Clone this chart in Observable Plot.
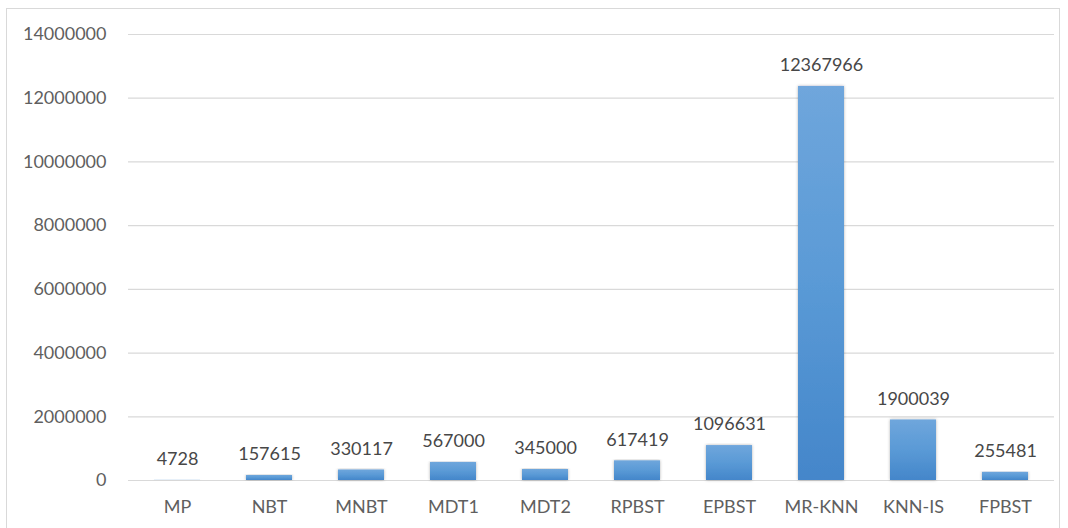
<!DOCTYPE html>
<html>
<head>
<meta charset="utf-8">
<script src="https://cdn.jsdelivr.net/npm/d3@7"></script>
<script src="https://cdn.jsdelivr.net/npm/@observablehq/plot@0.6"></script>
<style>
  html, body { margin: 0; padding: 0; background: #fff; }
  #wrap { position: relative; width: 1068px; height: 528px; overflow: hidden; }
  #border { position: absolute; left: 6px; top: 8px; width: 1054px; height: 530px; border: 1px solid #d9d9d9; box-sizing: border-box; }
  #chart { position: absolute; left: 0; top: 0; }
</style>
</head>
<body>
<div id="wrap"><div id="border"></div><div id="chart"></div></div>
<script>
const categories = ["MP", "NBT", "MNBT", "MDT1", "MDT2", "RPBST", "EPBST", "MR-KNN", "KNN-IS", "FPBST"];
const values = [4728, 157615, 330117, 567000, 345000, 617419, 1096631, 12367966, 1900039, 255481];
const yTicks = [0, 2000000, 4000000, 6000000, 8000000, 10000000, 12000000, 14000000];

const data = categories.map((c, i) => ({ name: c, value: values[i] }));
const font = "Lato, 'Open Sans', sans-serif";

const chart = Plot.plot({
  width: 1068,
  height: 528,
  marginLeft: 128,
  marginRight: 14,
  marginTop: 34,
  marginBottom: 48,
  style: { fontFamily: font, fontSize: "18px", background: "transparent" },
  x: { domain: categories, paddingInner: 0.5, paddingOuter: 0.25, label: null, tickSize: 0, tickPadding: 21 },
  y: { domain: [0, 14000000], ticks: yTicks, tickFormat: d => String(d), label: null, tickSize: 0, tickPadding: 22 },
  marks: [
    Plot.gridY(yTicks, { stroke: "#d9d9d9", strokeOpacity: 1, strokeWidth: 1.2 }),
    Plot.barY(data, { x: "name", y: "value", fill: "url(#barGrad)" }),
    Plot.text(data, { x: "name", y: "value", text: d => String(d.value), dy: -21, fill: "#474747", fontSize: 18 }),
    Plot.axisX({ tickSize: 0, tickPadding: 20, fill: "#5f5f5f", fontSize: 18 }),
    Plot.axisY({ ticks: yTicks, tickFormat: d => String(d), tickSize: 0, tickPadding: 22, fill: "#5f5f5f", fontSize: 18 })
  ]
});

const svg = d3.select(chart);
const defs = svg.insert("defs", ":first-child");
const g = defs.append("linearGradient").attr("id", "barGrad").attr("x1", 0).attr("y1", 0).attr("x2", 0).attr("y2", 1);
g.append("stop").attr("offset", "0%").attr("stop-color", "#6fa6dc");
g.append("stop").attr("offset", "50%").attr("stop-color", "#5a9ad6");
g.append("stop").attr("offset", "100%").attr("stop-color", "#4486ca");
const f = defs.append("filter").attr("id", "barShadow").attr("x", "-20%").attr("y", "-5%").attr("width", "140%").attr("height", "115%");
f.append("feDropShadow").attr("dx", 0).attr("dy", 0).attr("stdDeviation", 1.5).attr("flood-color", "#000").attr("flood-opacity", 0.3);
svg.selectAll("g[aria-label='bar'] rect").attr("filter", "url(#barShadow)");

document.getElementById("chart").appendChild(chart);
</script>
</body>
</html>
